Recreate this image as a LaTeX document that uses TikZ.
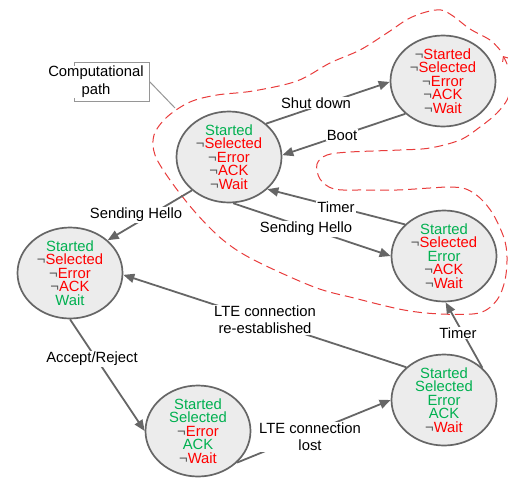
\documentclass[tikz,border=0pt]{standalone}
\usepackage{fontspec}
\setmainfont{Liberation Sans}
\usetikzlibrary{shapes.geometric,arrows.meta}
\definecolor{grn}{RGB}{0,176,80}
\definecolor{rd}{RGB}{255,0,0}
\definecolor{edgegray}{RGB}{102,102,102}
\definecolor{fillgray}{RGB}{236,236,236}
\definecolor{neggray}{RGB}{85,85,85}
\definecolor{pathred}{RGB}{232,60,60}
\definecolor{boxgray}{RGB}{150,150,150}
\newcommand{\tpos}[1]{\textcolor{grn}{#1}}
\newcommand{\tneg}[1]{\textcolor{neggray}{¬}\textcolor{rd}{#1}}
\begin{document}
\begin{tikzpicture}[x=1pt,y=-1pt,
  state/.style={ellipse, draw=edgegray, line width=1.7pt, fill=fillgray,
    minimum width=105pt, minimum height=91pt, inner sep=0pt},
  stxt/.style={font=\fontsize{14.8}{13.5}\selectfont, align=center, inner sep=0pt},
  lbl/.style={font=\fontsize{14.8}{17}\selectfont, align=center, fill=white, inner sep=1pt},
  conn/.style={draw=edgegray, line width=1.8pt, -{Triangle[length=11pt,width=9pt]}},
  redpath/.style={draw=pathred, line width=1pt, dash pattern=on 9pt off 5pt},
]
\useasboundingbox (0,0) rectangle (508,477);

% computational path callout
\node[draw=boxgray, line width=1pt, minimum width=75pt, minimum height=39pt, inner sep=0pt] (cpbox) at (111.5,81.5) {};
\node[font=\fontsize{14.8}{18}\selectfont, align=center, fill=white, inner sep=0.5pt] (cptext) at (96,82) {Computational\\path};
\coordinate (cpt) at (175,108);
\draw[boxgray, line width=1pt] (cpbox.east) -- (cpt);

% red dashed computational path
\draw[redpath, -{Straight Barb[length=4pt,width=7pt]}] plot[smooth, tension=0.55] coordinates {
 (500,50) (490,40) (470,29) (453,16) (441,10) (426,12) (408,19) (387,33) (360,50) (330,63)
 (297,81) (253,91) (217,95) (190,102) (167,117) (154,135) (155,155) (170,180) (195,212)
 (223,240) (254,260) (314,287) (354,298) (404,310) (441,314) (479,313) (497,300) (505,280)
 (507,257) (504,238) (493,214) (480,198) (466,189) (450,187) (430,188) (397,190) (363,190)
 (334,189) (320,179) (317,164) (327,155) (350,152) (400,150) (430,148) (460,140) (480,127)
 (497,113) (508,98) (511,80) (507,64) (503,56)};

% states
\node[state, label={[stxt]center:{\tpos{Started}\\\tneg{Selected}\\\tneg{Error}\\\tneg{ACK}\\\tneg{Wait}}}] (A) at (229,157) {};
\node[state, label={[stxt]center:{\tneg{Started}\\\tneg{Selected}\\\tneg{Error}\\\tneg{ACK}\\\tneg{Wait}}}] (B) at (443,81) {};
\node[state, label={[stxt]center:{\tpos{Started}\\\tneg{Selected}\\\tpos{Error}\\\tneg{ACK}\\\tneg{Wait}}}] (C) at (444,256) {};
\node[state, label={[stxt]center:{\tpos{Started}\\\tneg{Selected}\\\tneg{Error}\\\tneg{ACK}\\\tpos{Wait}}}] (D) at (70,273) {};
\node[state, label={[stxt]center:{\tpos{Started}\\\tpos{Selected}\\\tneg{Error}\\\tpos{ACK}\\\tneg{Wait}}}] (E) at (198,431) {};
\node[state, label={[stxt]center:{\tpos{Started}\\\tpos{Selected}\\\tpos{Error}\\\tpos{ACK}\\\tneg{Wait}}}] (F) at (444,400) {};

% connectors
\draw[conn] (A.42) -- (B.181);
\draw[conn] (B.221) -- (A.2);
\draw[conn] (C.141) -- (A.-40);
\draw[conn] (A.-85) -- (C.180);
\draw[conn] (A.222) -- (D.41);
\draw[conn] (F.139) -- (D.-2);
\draw[conn] (D.-90) -- (E.180);
\draw[conn] (E.-39) -- (F.180);
\draw[conn] (F.40) -- (C.-88);

% labels
\node[lbl] (lshut) at (316,103) {Shut down};
\node[lbl] (lboot) at (342,135) {Boot};
\node[lbl] (ltimer1) at (336,207) {Timer};
\node[lbl] (lhello1) at (306,229) {Sending Hello};
\node[lbl] (lhello2) at (136,215) {Sending Hello};
\node[lbl] (lre) at (265,320) {LTE connection\\re-established};
\node[lbl] (lacc) at (92,359) {Accept/Reject};
\node[lbl] (llost) at (310,437) {LTE connection\\lost};
\node[lbl] (ltimer2) at (458,333) {Timer};
\end{tikzpicture}
\end{document}
